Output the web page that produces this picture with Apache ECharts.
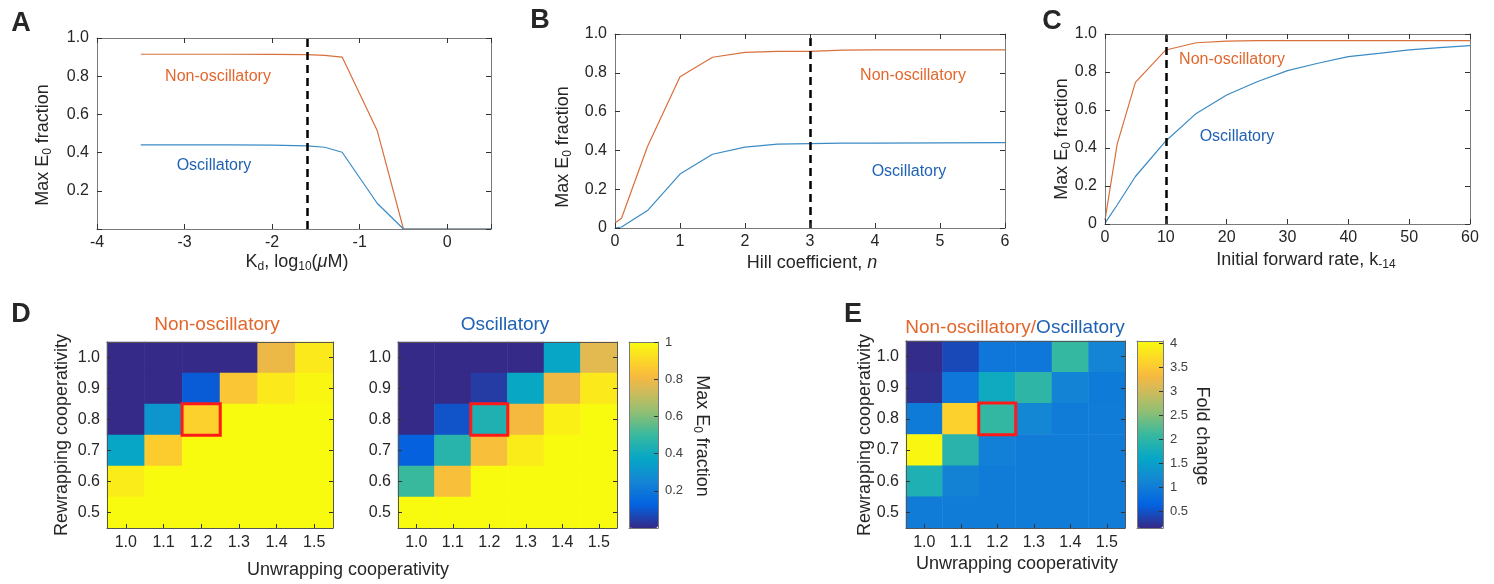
<!DOCTYPE html>
<html><head><meta charset="utf-8">
<script src="https://cdn.jsdelivr.net/npm/echarts@6/dist/echarts.min.js"></script>
<style>html,body{margin:0;padding:0;background:#fff}#c{width:1494px;height:584px}</style>
</head><body><div id="c"></div>
<script>
// ---------- Panel A : Kd ----------
const kdX = [-3.5, -3, -2.5, -2, -1.6, -1.4, -1.2, -0.8, -0.5, 0, 0.5];
const kdNonOsc = [0.915, 0.915, 0.915, 0.914, 0.913, 0.909, 0.900, 0.516, 0, 0, 0];
const kdOsc = [0.440, 0.440, 0.440, 0.439, 0.435, 0.428, 0.402, 0.135, 0, 0, 0];
const kdRef = -1.6;
// ---------- Panel B : Hill coefficient ----------
const hillX = [0, 0.1, 0.5, 1, 1.5, 2, 2.5, 3, 3.5, 4, 5, 6];
const hillNonOsc = [0.026, 0.05, 0.42, 0.78, 0.88, 0.905, 0.91, 0.91, 0.917, 0.918, 0.918, 0.918];
const hillOsc = [0, 0.005, 0.09, 0.278, 0.38, 0.417, 0.432, 0.435, 0.438, 0.438, 0.439, 0.44];
const hillRef = 3;
// ---------- Panel C : initial forward rate ----------
const rateX = [0, 2, 5, 10, 15, 20, 25, 30, 35, 40, 45, 50, 55, 60];
const rateNonOsc = [0.02, 0.42, 0.745, 0.916, 0.954, 0.963, 0.965, 0.965, 0.965, 0.965, 0.965, 0.965, 0.965, 0.965];
const rateOsc = [0.005, 0.10, 0.25, 0.437, 0.582, 0.679, 0.749, 0.807, 0.846, 0.881, 0.898, 0.916, 0.928, 0.939];
const rateRef = 10;
// ---------- Panels D / E : heatmaps ----------
const unwrapCats = ['1.0', '1.1', '1.2', '1.3', '1.4', '1.5'];
const rewrapCats = ['0.5', '0.6', '0.7', '0.8', '0.9', '1.0'];
// rows from rewrapping 1.0 (top) down to 0.5 (bottom)
const nonOscGrid = [
  [0, 0, 0, 0, 0.79, 0.95],
  [0, 0, 0.11, 0.85, 0.95, 0.99],
  [0, 0.31, 0.88, 1, 1, 1],
  [0.37, 0.87, 1, 1, 1, 1],
  [0.96, 1, 1, 1, 1, 1],
  [1, 1, 1, 1, 1, 1]
];
const oscGrid = [
  [0, 0, 0, 0, 0.37, 0.77],
  [0, 0, 0.04, 0.38, 0.80, 0.95],
  [0, 0.09, 0.44, 0.81, 0.97, 1],
  [0.12, 0.46, 0.83, 0.96, 1, 1],
  [0.50, 0.83, 1, 1, 1, 1],
  [1, 1, 1, 1, 1, 1]
];
const foldGrid = [
  [0.17, 0.42, 0.93, 0.93, 2.06, 1.12],
  [0.20, 0.93, 1.70, 2.00, 1.10, 0.98],
  [0.98, 3.58, 2.05, 1.15, 1.00, 1.00],
  [4.00, 1.95, 1.05, 1.00, 1.00, 1.00],
  [1.85, 1.08, 1.00, 1.00, 1.00, 1.00],
  [1, 1, 1, 1, 1, 1]
];
const refCell = ['1.2', '0.8'];
const fracTicks = [0.2, 0.4, 0.6, 0.8, 1];
const fracRange = [0, 1];
const foldTicks = [0.5, 1, 1.5, 2, 2.5, 3, 3.5, 4];
const foldRange = [0.15, 4.05];

const PARULA = ['#352a87', '#1c46b4', '#0363e1', '#0c74da', '#1485d4', '#0d96cd', '#06a7c6', '#1fb0b2',
  '#38b99e', '#65bc88', '#92bf73', '#b6bd64', '#d9ba56', '#f6b93f', '#fcce2e', '#fbe41e', '#f9fb0e'];
const ORANGE_LINE = '#d8703c', BLUE_LINE = '#3a8bc4';
const ORANGE_TXT = '#e3672c', BLUE_TXT = '#2062b3';
const AX = '#7a7a7a', TICK = '#333', TXT = '#262626';
const FONT = 'Liberation Sans, Arial, sans-serif';

const zip = (xs, ys) => xs.map((x, i) => [x, ys[i]]);
function heatData(grid) {
  const out = [];
  grid.forEach((row, i) => row.forEach((v, j) => out.push([j, grid.length - 1 - i, v])));
  return out;
}

const grids = [
  {left: 97, top: 38, width: 394, height: 191},   // 0 A
  {left: 615, top: 34, width: 390, height: 194},  // 1 B
  {left: 1105, top: 34, width: 365, height: 190}, // 2 C
  {left: 107, top: 342, width: 226, height: 186}, // 3 D non-osc
  {left: 398, top: 342, width: 219, height: 186}, // 4 D osc
  {left: 629, top: 342, width: 29, height: 186},  // 5 D colorbar
  {left: 906, top: 341, width: 219, height: 187}, // 6 E
  {left: 1137, top: 341, width: 26, height: 187}  // 7 E colorbar
];

const xAxes = [], yAxes = [];
function valAxis(list, gi, pos, min, max, interval, showLabel, fmt, extra) {
  const a = {
    type: 'value', gridIndex: gi, position: pos, min, max, interval,
    axisLine: {show: true, onZero: false, lineStyle: {color: AX, width: 1}},
    axisTick: {show: true, inside: true, length: 5, lineStyle: {color: TICK}},
    axisLabel: {show: showLabel, color: TXT, fontSize: 16, fontFamily: FONT, margin: (list === xAxes ? 6 : 8), formatter: fmt},
    splitLine: {show: false}, z: 10
  };
  if (extra) Object.assign(a, extra);
  list.push(a);
  return list.length - 1;
}
function catAxis(list, gi, pos, cats, showLabel, showTick) {
  list.push({
    type: 'category', gridIndex: gi, position: pos, data: cats,
    axisLine: {show: true, onZero: false, lineStyle: {color: '#555', width: 1}},
    axisTick: {show: showTick, inside: true, length: 4, alignWithLabel: true, lineStyle: {color: TICK}},
    axisLabel: {show: showLabel, color: TXT, fontSize: 16, fontFamily: FONT, margin: 7},
    splitLine: {show: false}, z: 10
  });
  return list.length - 1;
}
const fmtInt = v => Number.isInteger(v) ? String(v) : '';
const fmtA = v => v === 0 ? '' : v.toFixed(1);
const fmtBC = v => v === 0 ? '0' : v.toFixed(1);

// line panels
const lineCfg = [
  {gi: 0, x: [-4, 0.5, 1], yf: fmtA},
  {gi: 1, x: [0, 6, 1], yf: fmtBC},
  {gi: 2, x: [0, 60, 10], yf: fmtBC}
];
const lineAx = lineCfg.map(c => {
  const xb = valAxis(xAxes, c.gi, 'bottom', c.x[0], c.x[1], c.x[2], true, fmtInt);
  valAxis(xAxes, c.gi, 'top', c.x[0], c.x[1], c.x[2], false);
  const yl = valAxis(yAxes, c.gi, 'left', 0, 1, 0.2, true, c.yf);
  valAxis(yAxes, c.gi, 'right', 0, 1, 0.2, false);
  return [xb, yl];
});
// heatmap panels
const heatAx = [3, 4, 6].map(gi => {
  const xb = catAxis(xAxes, gi, 'bottom', unwrapCats, true, true);
  catAxis(xAxes, gi, 'top', unwrapCats, false, false);
  const yl = catAxis(yAxes, gi, 'left', rewrapCats, true, true);
  catAxis(yAxes, gi, 'right', rewrapCats, false, true);
  return [xb, yl];
});
// colorbars
[[5, fracRange, fracTicks, v => v === 1 ? '1' : v.toFixed(1)], [7, foldRange, foldTicks, v => String(v)]].forEach(([gi, rng, ticks, f]) => {
  const plain = {axisTick: {show: false}, axisLabel: {show: false}};
  valAxis(xAxes, gi, 'bottom', 0, 1, 1, false, null, plain);
  valAxis(xAxes, gi, 'top', 0, 1, 1, false, null, plain);
  valAxis(yAxes, gi, 'left', rng[0], rng[1], null, false, null, plain);
  valAxis(yAxes, gi, 'right', rng[0], rng[1], null, true, null, {
    axisTick: {show: true, inside: true, length: 4, customValues: ticks, lineStyle: {color: TICK}},
    axisLabel: {show: true, customValues: ticks, formatter: f, color: '#404040', fontSize: 13, fontFamily: FONT, margin: 7}
  });
});

function lineSeries(ax, xs, ys, color, ref) {
  const s = {
    type: 'line', xAxisIndex: ax[0], yAxisIndex: ax[1], data: zip(xs, ys),
    showSymbol: false, symbol: 'none', lineStyle: {color, width: 1.2}, itemStyle: {color},
    silent: true, animation: false, z: 3
  };
  if (ref !== undefined) {
    s.markLine = {silent: true, symbol: ['none', 'none'], label: {show: false},
      lineStyle: {color: '#000', type: [8, 5], width: 2.5}, data: [{xAxis: ref}], z: 5};
  }
  return s;
}
function heatSeries(ax, grid) {
  return {type: 'heatmap', xAxisIndex: ax[0], yAxisIndex: ax[1], data: heatData(grid),
    itemStyle: {borderWidth: 0}, emphasis: {disabled: true}, silent: true, progressive: 0, animation: false};
}
function boxSeries(ax) {
  return {type: 'heatmap', xAxisIndex: ax[0], yAxisIndex: ax[1],
    data: [[unwrapCats.indexOf(refCell[0]), rewrapCats.indexOf(refCell[1]), 1]],
    itemStyle: {color: 'rgba(0,0,0,0)', borderColor: '#ff1a1a', borderWidth: 3},
    emphasis: {disabled: true}, silent: true, z: 4, animation: false};
}

const series = [
  lineSeries(lineAx[0], kdX, kdNonOsc, ORANGE_LINE, kdRef),
  lineSeries(lineAx[0], kdX, kdOsc, BLUE_LINE),
  lineSeries(lineAx[1], hillX, hillNonOsc, ORANGE_LINE, hillRef),
  lineSeries(lineAx[1], hillX, hillOsc, BLUE_LINE),
  lineSeries(lineAx[2], rateX, rateNonOsc, ORANGE_LINE, rateRef),
  lineSeries(lineAx[2], rateX, rateOsc, BLUE_LINE),
  heatSeries(heatAx[0], nonOscGrid),   // 6
  boxSeries(heatAx[0]),                // 7
  heatSeries(heatAx[1], oscGrid),      // 8
  boxSeries(heatAx[1]),                // 9
  heatSeries(heatAx[2], foldGrid),     // 10
  boxSeries(heatAx[2])                 // 11
];

const visualMap = [
  {type: 'continuous', min: fracRange[0], max: fracRange[1], seriesIndex: [6, 8], calculable: false,
   orient: 'vertical', left: 629, top: 342, itemWidth: 29, itemHeight: 186, padding: 0,
   inRange: {color: PARULA}, hoverLink: false, z: 2},
  {type: 'continuous', min: foldRange[0], max: foldRange[1], seriesIndex: [10], calculable: false,
   orient: 'vertical', left: 1137, top: 341, itemWidth: 26, itemHeight: 187, padding: 0,
   inRange: {color: PARULA}, hoverLink: false, z: 2}
];

const RICH = {
  n: {fontSize: 18, lineHeight: 22, fontFamily: FONT, fill: TXT},
  s: {fontSize: 12, lineHeight: 12, verticalAlign: 'bottom', fontFamily: FONT, fill: TXT},
  i: {fontSize: 18, lineHeight: 22, fontStyle: 'italic', fontFamily: FONT, fill: TXT},
  o: {fontSize: 19, lineHeight: 22, fontFamily: FONT, fill: ORANGE_TXT},
  b: {fontSize: 19, lineHeight: 22, fontFamily: FONT, fill: BLUE_TXT}
};
function txt(x, y, text, o) {
  o = o || {};
  return {type: 'text', x, y, rotation: o.rot || 0, silent: true, z: 20,
    style: {text, fill: o.color || TXT, fontSize: o.size || 18, fontFamily: FONT,
      fontWeight: o.weight || 'normal', align: o.align || 'center', verticalAlign: 'middle', rich: RICH}};
}
const YT = '{n|Max E}{s|0}{n| fraction}';
const graphic = [
  txt(21, 24, 'A', {size: 27, weight: 'bold'}),
  txt(540, 21, 'B', {size: 27, weight: 'bold'}),
  txt(1052, 22, 'C', {size: 27, weight: 'bold'}),
  txt(21, 315, 'D', {size: 27, weight: 'bold'}),
  txt(853, 315, 'E', {size: 27, weight: 'bold'}),
  // A
  txt(43, 145, YT, {rot: Math.PI / 2}),
  txt(297, 262, '{n|K}{s|d}{n|, log}{s|10}{n|(}{i|μ}{n|M)}'),
  txt(218, 77, 'Non-oscillatory', {size: 16, color: ORANGE_TXT}),
  txt(214, 166, 'Oscillatory', {size: 16, color: BLUE_TXT}),
  // B
  txt(563, 147, YT, {rot: Math.PI / 2}),
  txt(812, 263, '{n|Hill coefficient, }{i|n}'),
  txt(913, 76, 'Non-oscillatory', {size: 16, color: ORANGE_TXT}),
  txt(909, 172, 'Oscillatory', {size: 16, color: BLUE_TXT}),
  // C
  txt(1062, 139, YT, {rot: Math.PI / 2}),
  txt(1306, 260, '{n|Initial forward rate, k}{s|-14}'),
  txt(1232, 60, 'Non-oscillatory', {size: 16, color: ORANGE_TXT}),
  txt(1237, 137, 'Oscillatory', {size: 16, color: BLUE_TXT}),
  // D
  txt(217, 325, 'Non-oscillatory', {size: 19, color: ORANGE_TXT}),
  txt(505, 325, 'Oscillatory', {size: 19, color: BLUE_TXT}),
  txt(62, 435, 'Rewrapping cooperativity', {rot: Math.PI / 2}),
  txt(348, 570, 'Unwrapping cooperativity'),
  txt(702, 436, YT, {rot: -Math.PI / 2}),
  // E
  txt(1015, 328, '{o|Non-oscillatory/}{b|Oscillatory}'),
  txt(865, 435, 'Rewrapping cooperativity', {rot: Math.PI / 2}),
  txt(1017, 564, 'Unwrapping cooperativity'),
  txt(1202, 436, 'Fold change', {rot: -Math.PI / 2})
];

const chart = echarts.init(document.getElementById('c'), null, {renderer: 'canvas'});
chart.setOption({
  backgroundColor: '#fff', animation: false,
  grid: grids, xAxis: xAxes, yAxis: yAxes, visualMap, series, graphic
});
</script></body></html>
